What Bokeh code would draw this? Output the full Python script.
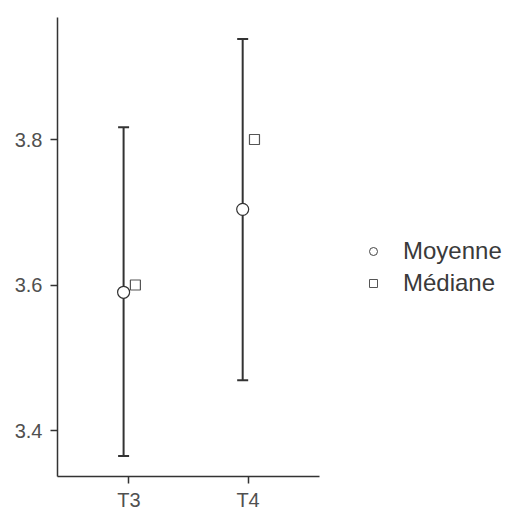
import numpy as np
from bokeh.plotting import figure
from bokeh.models import (ColumnDataSource, FactorRange, Range1d, Whisker, TeeHead,
                          Legend, LegendItem, FixedTicker)
from bokeh.transform import dodge
from bokeh.embed import file_html
from bokeh.resources import INLINE

groups = ["T3", "T4"]
means = [3.590, 3.704]
medians = [3.600, 3.800]
lower = [3.365, 3.469]
upper = [3.817, 3.938]
y_ticks = [3.4, 3.6, 3.8]

FONT = "Liberation Sans"
DARK = "#333333"

src = ColumnDataSource(dict(g=groups, mean=means, median=medians, lo=lower, hi=upper))

p = figure(frame_width=262, frame_height=459,
           x_range=FactorRange(factors=groups, range_padding=0.1),
           y_range=Range1d(3.3368, 3.9677), output_backend="svg", toolbar_location=None,
           min_border_left=57, min_border_right=190, min_border_top=17, min_border_bottom=27)
p.outline_line_color = None
p.grid.visible = False
p.background_fill_color = "white"
p.border_fill_color = "white"

for ax in (p.xaxis[0], p.yaxis[0]):
    ax.axis_line_color = DARK
    ax.axis_line_width = 1.5
    ax.major_tick_line_color = DARK
    ax.major_tick_line_width = 1.5
    ax.major_tick_out = 7
    ax.major_tick_in = 0
    ax.minor_tick_line_color = None
    ax.major_label_text_font = FONT
    ax.major_label_text_font_size = "20px"
    ax.major_label_text_color = "#505050"
p.yaxis[0].ticker = FixedTicker(ticks=y_ticks)
p.yaxis[0].major_label_standoff = 8
p.xaxis[0].major_label_standoff = 5

wh = Whisker(source=src, base=dodge("g", -0.045, range=p.x_range), lower="lo", upper="hi",
             line_color=DARK, line_width=2,
             upper_head=TeeHead(size=11, line_color=DARK, line_width=2),
             lower_head=TeeHead(size=11, line_color=DARK, line_width=2))
p.add_layout(wh)

p.scatter(x=dodge("g", -0.045, range=p.x_range), y="mean", source=src, marker="circle",
          size=12, fill_color="white", line_color=DARK, line_width=1.2)
p.scatter(x=dodge("g", 0.054, range=p.x_range), y="median", source=src, marker="square",
          size=10, fill_color="white", line_color="#555555", line_width=1.2)

# legend-only renderers (not drawn: NaN values)
dummy = ColumnDataSource(dict(g=["T3"], y=[np.nan]))
lc = p.scatter(x="g", y="y", source=dummy, marker="circle", size=9,
               fill_color="white", line_color="#444444", line_width=1)
ls = p.scatter(x="g", y="y", source=dummy, marker="square", size=8,
               fill_color="white", line_color="#555555", line_width=1)

legend = Legend(items=[LegendItem(label="Moyenne", renderers=[lc]),
                       LegendItem(label="Médiane", renderers=[ls])],
                location=(44, 179), border_line_color=None, background_fill_alpha=0,
                padding=0, margin=0, spacing=4, glyph_width=20, glyph_height=28,
                label_standoff=20, label_text_font=FONT, label_text_font_size="24px",
                label_text_color="#3a3a3a", label_height=28)
p.add_layout(legend, "right")

open("out.html", "w").write(file_html(p, INLINE))
